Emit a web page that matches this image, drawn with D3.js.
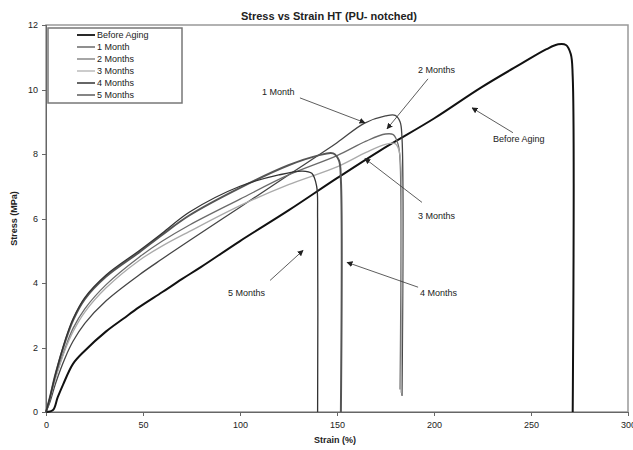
<!DOCTYPE html>
<meta charset="utf-8">
<head>
<script src="https://d3js.org/d3.v7.min.js"></script>
<style>
  body { margin: 0; background: #fff; font: 9px "Liberation Sans", Arial, sans-serif; }
  .axis text { font: 9px "Liberation Sans", Arial, sans-serif; fill: #222; }
  .axis path, .axis line { stroke: #666; shape-rendering: crispEdges; }
</style>
</head>
<body>
<div id="chart"></div>
<script>
// strain (%) / stress (MPa)
var beforeStrain = [0, 3.6, 6, 8.8, 14, 20, 31, 40, 48, 60, 70, 80, 100, 125, 150, 172, 200, 224, 245, 258, 264, 268, 270.5, 271.5, 271.5];
var beforeStress = [0, 0.06, 0.45, 0.85, 1.5, 1.9, 2.5, 2.9, 3.25, 3.72, 4.12, 4.5, 5.3, 6.25, 7.25, 8.1, 9.1, 10.05, 10.8, 11.25, 11.4, 11.38, 11.1, 10.4, 0];

var m1Strain = [0, 2, 5, 10, 14, 20, 31, 48, 60, 74, 100, 125, 150, 164, 175, 180, 182.5, 183.5, 183.5];
var m1Stress = [0, 0.3, 0.9, 1.7, 2.2, 2.75, 3.45, 4.25, 4.75, 5.32, 6.35, 7.35, 8.35, 8.95, 9.18, 9.2, 9.0, 8.5, 0.5];

var m2Strain = [0, 2, 5, 10, 14, 20, 31, 48, 60, 74, 100, 125, 150, 165, 175, 179, 181.5, 182.5, 182.5];
var m2Stress = [0, 0.4, 1.1, 2.0, 2.6, 3.2, 3.95, 4.8, 5.3, 5.8, 6.6, 7.35, 7.95, 8.4, 8.62, 8.6, 8.3, 7.8, 0.7];

var m3Strain = [0, 2, 5, 10, 14, 20, 31, 48, 60, 74, 100, 125, 150, 165, 175, 180, 182, 183, 183];
var m3Stress = [0, 0.4, 1.05, 1.95, 2.5, 3.1, 3.85, 4.7, 5.15, 5.6, 6.4, 7.05, 7.6, 8.05, 8.3, 8.32, 8.1, 7.6, 0.6];

var m4Strain = [0, 2, 5, 10, 14, 20, 31, 48, 60, 74, 100, 125, 140, 148, 151, 152, 152];
var m4Stress = [0, 0.45, 1.2, 2.2, 2.85, 3.5, 4.2, 4.95, 5.5, 6.1, 6.95, 7.65, 7.95, 8.02, 7.8, 7.2, 0];

var m5Strain = [0, 2, 5, 10, 14, 20, 31, 48, 60, 74, 100, 120, 132, 137, 139.5, 140, 140];
var m5Stress = [0, 0.45, 1.2, 2.25, 2.9, 3.55, 4.25, 5.0, 5.55, 6.2, 7.0, 7.35, 7.47, 7.4, 7.0, 6.0, 0];

var seriesNames = ["Before Aging", "1 Month", "2 Months", "3 Months", "4 Months", "5 Months"];
var seriesColors = ["#111", "#444", "#6a6a6a", "#aaa", "#555", "#333"];
var seriesWidths = [2, 1.3, 1.3, 1.3, 2, 1.3];

var xTicks = [0, 50, 100, 150, 200, 250, 300];
var yTicks = [0, 2, 4, 6, 8, 10, 12];

// annotation text anchor, arrow start, arrow tip (strain, stress)
var noteLabels = ["1 Month", "2 Months", "Before Aging", "3 Months", "4 Months", "5 Months"];
var noteText = [[111.3, 9.93], [191.8, 10.61], [230.4, 8.47], [191.8, 6.09], [192.8, 3.71], [93.8, 3.68]];
var noteFrom = [[130.9, 9.74], [196.9, 10.33], [240.7, 8.66], [193.8, 6.5], [191.8, 3.87], [115.5, 4.08]];
var noteTip = [[164.4, 8.97], [175.8, 8.78], [219.6, 9.43], [164.4, 7.86], [155.2, 4.64], [132.5, 5.01]];

var strains = [beforeStrain, m1Strain, m2Strain, m3Strain, m4Strain, m5Strain];
var stresses = [beforeStress, m1Stress, m2Stress, m3Stress, m4Stress, m5Stress];
var series = seriesNames.map(function(n, i) {
    return { name: n, pts: strains[i].map(function(s, j) { return [s, stresses[i][j]]; }) };
});

var W = 633, H = 450;
var margin = {top: 25, right: 5, bottom: 38, left: 46},
    width = W - margin.left - margin.right,
    height = H - margin.top - margin.bottom;

var svg = d3.select("#chart").append("svg")
    .attr("width", W).attr("height", H);

var defs = svg.append("defs");
defs.append("marker")
    .attr("id", "arrow")
    .attr("viewBox", "0 0 10 10")
    .attr("refX", 9).attr("refY", 5)
    .attr("markerWidth", 6).attr("markerHeight", 6)
    .attr("markerUnits", "userSpaceOnUse")
    .attr("orient", "auto")
    .append("path").attr("d", "M0,0L10,5L0,10z").attr("fill", "#222");

var g = svg.append("g")
    .attr("transform", "translate(" + margin.left + "," + margin.top + ")");

var x = d3.scaleLinear().domain([0, 300]).range([0, width]);
var y = d3.scaleLinear().domain([0, 12]).range([height, 0]);

// plot frame
g.append("rect")
    .attr("x", 0).attr("y", 0).attr("width", width).attr("height", height)
    .attr("fill", "none").attr("stroke", "#999").attr("stroke-width", 1.5);

g.append("g").attr("class", "axis")
    .attr("transform", "translate(0," + height + ")")
    .call(d3.axisBottom(x).tickValues(xTicks).tickSize(4).tickPadding(6));

g.append("g").attr("class", "axis")
    .call(d3.axisLeft(y).tickValues(yTicks).tickSize(4).tickPadding(4));

g.selectAll(".axis .domain").attr("stroke-width", 1.5);

var line = d3.line()
    .x(function(d) { return x(d[0]); })
    .y(function(d) { return y(d[1]); })
    .curve(d3.curveCatmullRom.alpha(0.5));

g.selectAll(".series")
    .data(series)
    .enter().append("path")
    .attr("class", "series")
    .attr("fill", "none")
    .attr("stroke", function(d, i) { return seriesColors[i]; })
    .attr("stroke-width", function(d, i) { return seriesWidths[i]; })
    .attr("stroke-linejoin", "round")
    .attr("d", function(d) { return line(d.pts); });

// annotations
g.selectAll(".noteLine")
    .data(noteLabels)
    .enter().append("line")
    .attr("x1", function(d, i) { return x(noteFrom[i][0]); })
    .attr("y1", function(d, i) { return y(noteFrom[i][1]); })
    .attr("x2", function(d, i) { return x(noteTip[i][0]); })
    .attr("y2", function(d, i) { return y(noteTip[i][1]); })
    .attr("stroke", "#333").attr("stroke-width", 0.8)
    .attr("marker-end", "url(#arrow)");

g.selectAll(".noteText")
    .data(noteLabels)
    .enter().append("text")
    .attr("x", function(d, i) { return x(noteText[i][0]); })
    .attr("y", function(d, i) { return y(noteText[i][1]); })
    .attr("dy", ".35em")
    .attr("fill", "#222")
    .style("font", "9px 'Liberation Sans', Arial, sans-serif")
    .text(function(d) { return d; });

// legend
var legend = g.append("g").attr("transform", "translate(2,3)");
legend.append("rect")
    .attr("width", 134).attr("height", 75)
    .attr("fill", "#fff").attr("stroke", "#777").attr("stroke-width", 1.5);
var li = legend.selectAll(".li").data(seriesNames).enter().append("g")
    .attr("transform", function(d, i) { return "translate(0," + (7 + i * 12) + ")"; });
li.append("line")
    .attr("x1", 29).attr("x2", 47)
    .attr("stroke", function(d, i) { return seriesColors[i]; })
    .attr("stroke-width", function(d, i) { return seriesWidths[i] > 1.5 ? 1.8 : 1.2; });
li.append("text")
    .attr("x", 49).attr("dy", ".35em")
    .attr("fill", "#222")
    .style("font", "9px 'Liberation Sans', Arial, sans-serif")
    .text(function(d) { return d; });

// titles
svg.append("text")
    .attr("x", 329).attr("y", 20)
    .attr("text-anchor", "middle")
    .style("font", "bold 11px 'Liberation Sans', Arial, sans-serif")
    .attr("fill", "#222")
    .text("Stress vs Strain HT (PU- notched)");

svg.append("text")
    .attr("x", margin.left + width / 2 - 2).attr("y", 443)
    .attr("text-anchor", "middle")
    .style("font", "bold 9px 'Liberation Sans', Arial, sans-serif")
    .attr("fill", "#222")
    .text("Strain (%)");

svg.append("text")
    .attr("transform", "translate(17," + (margin.top + height / 2) + ") rotate(-90)")
    .attr("text-anchor", "middle")
    .style("font", "bold 9px 'Liberation Sans', Arial, sans-serif")
    .attr("fill", "#222")
    .text("Stress (MPa)");
</script>
</body>
